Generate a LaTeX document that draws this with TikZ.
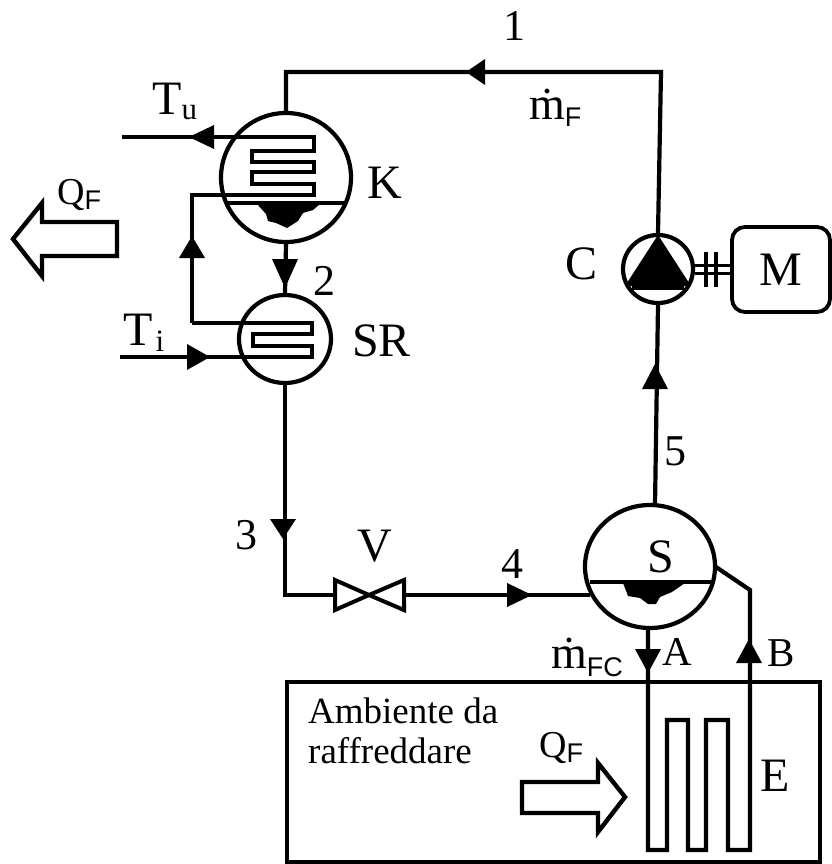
\documentclass[tikz,border=0pt]{standalone}
\usepackage{fontspec}
\setmainfont{Liberation Serif}
\newfontfamily\subsans{Liberation Sans}
\usetikzlibrary{shapes.geometric}
\newcommand{\fs}[1]{\fontsize{#1}{#1}\selectfont}
\newcommand{\hV}[4]{\fill ({#1},{#2}) -- ({#1-#4},{#3}) -- ({#1+#4},{#3}) -- cycle;}
\newcommand{\hH}[4]{\fill ({#1},{#3}) -- ({#2},{#3-#4}) -- ({#2},{#3+#4}) -- cycle;}
\newcommand{\subF}[1]{{\subsans\fs{27}#1}}
\tikzset{
  pipe/.style={line width=4.2pt,line join=miter,line cap=butt},
  vessel/.style={draw,line width=4.2pt,ellipse,inner sep=0pt},
  lab/.style={anchor=base west,inner sep=0pt,font=\fs{48}},
  num/.style={anchor=base west,inner sep=0pt,font=\fs{44}},
  big/.style={draw,line width=4.4pt,line join=miter,fill=white},
}
\begin{document}
\begin{tikzpicture}[x=1pt,y=-1pt]
\useasboundingbox[fill=white] (0,0) rectangle (831,864);

% room
\node[draw,line width=3.2pt,minimum width=533pt,minimum height=180pt,inner sep=0pt] (room) at (553.5,772) {};

% vessels
\node[vessel,minimum width=130pt,minimum height=129pt] (K) at (286,177.5) {};
\node[vessel,minimum width=92pt,minimum height=88pt] (SR) at (285,339) {};
\node[vessel,minimum width=130pt,minimum height=123pt] (S) at (650,566.5) {};
\node[vessel,minimum width=70pt,minimum height=68pt] (C) at (658,269) {};
\node[draw,line width=3.8pt,rounded corners=13pt,minimum width=98pt,minimum height=85pt,inner sep=0pt,font=\fs{48}] (M) at (781,269.5) {M};

% free ends and bends
\coordinate (c1) at (661,72);
\coordinate (k1) at (286,72);
\coordinate (tuEnd) at (122,137);
\coordinate (tiEnd) at (120,357);
\coordinate (bendL) at (192,195);
\coordinate (bendB) at (192,323);
\coordinate (b3) at (283,595);
\coordinate (vL) at (335,595);
\coordinate (vR) at (404,595);
\coordinate (vC) at (369,595);
\coordinate (s4) at (590,595);
\coordinate (s5) at (655,505);
\coordinate (sA) at (648,628);
\coordinate (sB) at (716,567);
\coordinate (bB) at (750,590);

% main circuit
\draw[pipe] (K.north) -- (k1) -- (c1) -- (C.north);
\draw[pipe] (C.south) -- (s5);
\draw[pipe] (K.south) -- (SR.north);
\draw[pipe] (SR.south) -- (SR.south |- b3) -- (vL);
\draw[pipe] (vR) -- (s4);

% valve
\draw[line width=4pt,line join=miter,fill=white] (vL) ++(0,-15) -- ++(0,30) -- (vC) -- cycle;
\draw[line width=4pt,line join=miter,fill=white] (vR) ++(0,-15) -- ++(0,30) -- (vC) -- cycle;

% K coil
\draw[pipe] (tuEnd) -- (314,137) -- (314,151) -- (252,151) -- (252,162) -- (314,162) -- (314,172) -- (252,172) -- (252,184) -- (314,184) -- (314,195) -- (bendL) -- (bendB);
% K level
\draw[line width=3.2pt] (225,203) -- (346,203);
\fill (257,204) -- (320,204) -- (313,210) -- (303,213) -- (298,221) -- (287,228) -- (276,223) -- (268,221) -- (266,214) -- cycle;

% SR coil
\draw[pipe] (bendB) -- (312,323) -- (312,334) -- (253,334) -- (253,346) -- (312,346) -- (312,357) -- (tiEnd);

% S level
\draw[line width=3.2pt] (590,582) -- (712,582);
\fill (623,583) -- (685,583) -- (672,592) -- (660,597) -- (656,604) -- (648,604) -- (640,598) -- (628,596) -- cycle;

% pump
\fill (658,235) -- (625,286) -- (691,286) -- cycle;
\draw[line width=3.2pt] (632,288) -- (684,288);
% shaft
\draw[line width=3.2pt] (C.east |- 0,265.5) -- (M.west |- 0,265.5);
\draw[line width=3.2pt] (C.east |- 0,273.5) -- (M.west |- 0,273.5);
\draw[line width=3.8pt] (706,252) -- (706,287);
\draw[line width=3.8pt] (716,252) -- (716,287);

% evaporator
\draw[pipe] (sA) -- (648,850) -- (667,850) -- (667,720) -- (688,720) -- (688,850) -- (706,850) -- (706,720) -- (728,720) -- (728,850) -- (750,850) -- (bB) -- (sB);

% arrowheads
\hH{466}{485}{72}{13}
\hH{189}{214}{137}{12}
\hH{210}{187}{357}{13}
\hV{192}{236}{258}{13}
\hV{285}{288}{259}{13}
\hV{283}{539}{519}{13}
\hH{532}{507}{595}{12}
\hV{655}{364}{389}{13}
\hV{648}{673}{649}{13}
\hV{749}{639}{663}{13}

% big arrows
\draw[big] (13,239) -- (42,203) -- (42,222) -- (117,222) -- (117,256) -- (42,256) -- (42,276) -- cycle;
\draw[big] (625,797) -- (598,763) -- (598,782) -- (522,782) -- (522,813) -- (598,813) -- (598,832) -- cycle;

% labels
\node[lab] (lT) at (152,115) {T\raisebox{-5pt}{\fs{31}u}};
\node[lab] (lTi) at (123,345) {T\hspace{3pt}\raisebox{-6pt}{\fs{31}i}};
\node[lab] (lK) at (367,198) {K};
\node[lab] (lSR) at (352,356) {SR};
\node[lab] (lC) at (565,279) {C};
\node[lab] (lV) at (357,561) {V};
\node[lab] (lS) at (647,572) {S};
\node[lab] (lE) at (760,791) {E};
\node[anchor=base west,inner sep=0pt,font=\fs{41}] (lA) at (662,665) {A};
\node[anchor=base west,inner sep=0pt,font=\fs{41}] (lB) at (767,666) {B};
\node[num] (n1) at (503,41) {1};
\node[num] (n2) at (313,295) {2};
\node[num] (n3) at (235,549) {3};
\node[num] (n4) at (501,578) {4};
\node[num] (n5) at (664,465) {5};
\node[anchor=base west,inner sep=0pt,font=\fs{38}] (q1) at (57,204) {Q\raisebox{-5pt}{\subF{F}}};
\node[anchor=base west,inner sep=0pt,font=\fs{38}] (q2) at (539,757) {Q\raisebox{-5pt}{\subF{F}}};
\node[anchor=base west,inner sep=0pt,font=\fs{46}] (mf) at (529,120) {ṁ\raisebox{-7pt}{\subF{F}}};
\node[anchor=base west,inner sep=0pt,font=\fs{46}] (mfc) at (551,668) {ṁ\raisebox{-8pt}{\subF{FC}}};
\node[anchor=base west,inner sep=0pt,font=\fs{37}] (amb) at (308,723) {Ambiente da};
\node[anchor=base west,inner sep=0pt,font=\fs{37}] (raf) at (308,763) {raffreddare};
\end{tikzpicture}
\end{document}
